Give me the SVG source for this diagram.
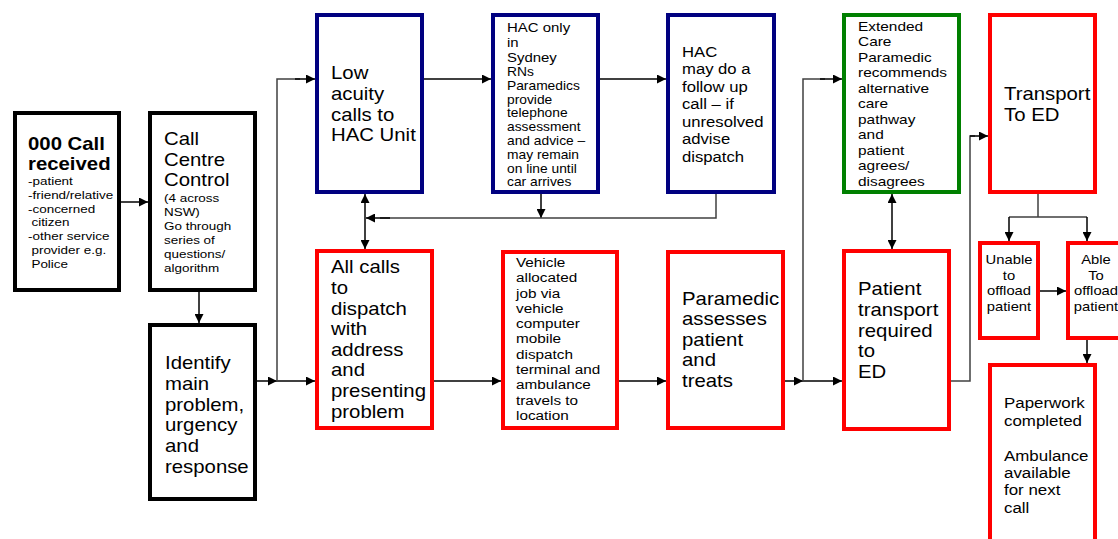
<svg xmlns="http://www.w3.org/2000/svg" width="1118" height="539" viewBox="0 0 1118 539">
<style>
.box{fill:#fff;stroke-width:4}
.k{stroke:#000}.b{stroke:#000080}.r{stroke:#ff0000}.g{stroke:#008000}
text{font-family:"Liberation Sans",Arial,sans-serif;fill:#000}
.L{font-size:17.7px}.M{font-size:14.5px}.S{font-size:11.7px}
.c{fill:none;stroke:#000;stroke-width:1.5}
.cg{fill:none;stroke:#404040;stroke-width:1.5}
</style>
<defs>
<marker id="ah" viewBox="0 0 10 10" refX="10" refY="5" markerWidth="9" markerHeight="9" markerUnits="userSpaceOnUse" orient="auto-start-reverse"><path d="M0,0 L10,5 L0,10 z" fill="#000"/></marker>
</defs>

<g id="connectors">
<path class="c" d="M121,202 H148" marker-end="url(#ah)"/>
<path class="c" d="M199,292 V323" marker-end="url(#ah)"/>
<path class="c" d="M257,381 H277" marker-end="url(#ah)"/>
<path class="c" d="M277,381 H315" marker-end="url(#ah)"/>
<path class="cg" d="M277,381 V79 H300"/>
<path class="c" d="M295,79 H315" marker-end="url(#ah)"/>
<path class="c" d="M424,79 H491" marker-end="url(#ah)"/>
<path class="c" d="M600,79 H666" marker-end="url(#ah)"/>
<path class="c" d="M541,194 V218" marker-end="url(#ah)"/>
<path class="cg" d="M716,194 V218 H380"/>
<path class="c" d="M390,218 H366" marker-end="url(#ah)"/>
<path class="c" d="M365,194 V249" marker-start="url(#ah)" marker-end="url(#ah)"/>
<path class="c" d="M434,381 H501" marker-end="url(#ah)"/>
<path class="c" d="M619,381 H666" marker-end="url(#ah)"/>
<path class="c" d="M785,381 H803" marker-end="url(#ah)"/>
<path class="c" d="M803,381 H842" marker-end="url(#ah)"/>
<path class="cg" d="M803,381 V79 H825"/>
<path class="c" d="M820,79 H842" marker-end="url(#ah)"/>
<path class="c" d="M892,194 V249" marker-start="url(#ah)" marker-end="url(#ah)"/>
<path class="cg" d="M951,381 H970 V136 H975"/>
<path class="c" d="M970,136 H988" marker-end="url(#ah)"/>
<path class="cg" d="M1038,194 V217 M1009,217 H1087"/>
<path class="c" d="M1009,217 V241" marker-end="url(#ah)"/>
<path class="c" d="M1087,217 V241" marker-end="url(#ah)"/>
<path class="c" d="M1040,291 H1066" marker-end="url(#ah)"/>
<path class="c" d="M1087,340 V363" marker-end="url(#ah)"/>
</g>

<g id="n_call_received">
<rect class="box k" x="15" y="113" width="104" height="177"/>
<text transform="translate(28,0) scale(1.15,1)" font-weight="bold" class="L"><tspan x="0" y="150">000 Call</tspan><tspan x="0" y="170">received</tspan></text>
<text transform="translate(28,0) scale(1.15,1)" class="S"><tspan x="0" y="185">-patient</tspan><tspan x="0" y="199">-friend/relative</tspan><tspan x="0" y="213">-concerned</tspan><tspan x="3" y="226.5">citizen</tspan><tspan x="0" y="240">-other service</tspan><tspan x="3" y="254">provider e.g.</tspan><tspan x="3" y="268">Police</tspan></text>
</g>

<g id="n_call_centre">
<rect class="box k" x="150" y="113" width="105" height="177"/>
<text transform="translate(164,0) scale(1.15,1)" class="L"><tspan x="0" y="145">Call</tspan><tspan x="0" y="166">Centre</tspan><tspan x="0" y="186">Control</tspan></text>
<text transform="translate(164,0) scale(1.15,1)" class="S"><tspan x="0" y="202">(4 across</tspan><tspan x="0" y="216">NSW)</tspan><tspan x="0" y="230">Go through</tspan><tspan x="0" y="244">series of</tspan><tspan x="0" y="258">questions/</tspan><tspan x="0" y="272">algorithm</tspan></text>
</g>

<g id="n_identify">
<rect class="box k" x="150" y="325" width="105" height="174"/>
<text transform="translate(165,0) scale(1.15,1)" class="L"><tspan x="0" y="369">Identify</tspan><tspan x="0" y="390">main</tspan><tspan x="0" y="411">problem,</tspan><tspan x="0" y="431">urgency</tspan><tspan x="0" y="452">and</tspan><tspan x="0" y="473">response</tspan></text>
</g>

<g id="n_low_acuity">
<rect class="box b" x="317" y="15" width="105" height="177"/>
<text transform="translate(331,0) scale(1.15,1)" class="L"><tspan x="0" y="79.5">Low</tspan><tspan x="0" y="100">acuity</tspan><tspan x="0" y="121">calls to</tspan><tspan x="0" y="141.5">HAC Unit</tspan></text>
</g>

<g id="n_hac_only">
<rect class="box b" x="493" y="15" width="105" height="177"/>
<text transform="translate(507,0) scale(1.15,1)" font-size="13"><tspan x="0" y="31.7">HAC only</tspan><tspan x="0" y="46.7">in</tspan><tspan x="0" y="62">Sydney</tspan></text>
<text transform="translate(507,0) scale(1.15,1)" font-size="12"><tspan x="0" y="76">RNs</tspan><tspan x="0" y="89.8">Paramedics</tspan><tspan x="0" y="103.6">provide</tspan><tspan x="0" y="117.4">telephone</tspan><tspan x="0" y="131.2">assessment</tspan><tspan x="0" y="145">and advice –</tspan><tspan x="0" y="158.8">may remain</tspan><tspan x="0" y="172.6">on line until</tspan><tspan x="0" y="186.4">car arrives</tspan></text>
</g>

<g id="n_hac_followup">
<rect class="box b" x="668" y="15" width="106" height="177"/>
<text transform="translate(682,0) scale(1.15,1)" class="M"><tspan x="0" y="57">HAC</tspan><tspan x="0" y="74.5">may do a</tspan><tspan x="0" y="92">follow up</tspan><tspan x="0" y="109.5">call – if</tspan><tspan x="0" y="127">unresolved</tspan><tspan x="0" y="144.5">advise</tspan><tspan x="0" y="162">dispatch</tspan></text>
</g>

<g id="n_extended_care">
<rect class="box g" x="844" y="15" width="115" height="177"/>
<text transform="translate(858,0) scale(1.15,1)" font-size="13.4"><tspan x="0" y="31">Extended</tspan><tspan x="0" y="46.5">Care</tspan><tspan x="0" y="62">Paramedic</tspan><tspan x="0" y="77.5">recommends</tspan><tspan x="0" y="93">alternative</tspan><tspan x="0" y="108.5">care</tspan><tspan x="0" y="124">pathway</tspan><tspan x="0" y="139.5">and</tspan><tspan x="0" y="155">patient</tspan><tspan x="0" y="170.5">agrees/</tspan><tspan x="0" y="186">disagrees</tspan></text>
</g>

<g id="n_transport_ed">
<rect class="box r" x="990" y="15" width="105" height="177"/>
<text transform="translate(1004,0) scale(1.15,1)" class="L"><tspan x="0" y="100">Transport</tspan><tspan x="0" y="121">To ED</tspan></text>
</g>

<g id="n_all_calls">
<rect class="box r" x="317" y="251" width="115" height="177"/>
<text transform="translate(331,0) scale(1.15,1)" class="L"><tspan x="0" y="273.5">All calls</tspan><tspan x="0" y="294">to</tspan><tspan x="0" y="315">dispatch</tspan><tspan x="0" y="335.5">with</tspan><tspan x="0" y="356">address</tspan><tspan x="0" y="376.5">and</tspan><tspan x="0" y="397">presenting</tspan><tspan x="0" y="418">problem</tspan></text>
</g>

<g id="n_vehicle">
<rect class="box r" x="503" y="252" width="114" height="176"/>
<text transform="translate(516,0) scale(1.15,1)" font-size="13.3"><tspan x="0" y="267">Vehicle</tspan><tspan x="0" y="282.3">allocated</tspan><tspan x="0" y="297.6">job via</tspan><tspan x="0" y="312.9">vehicle</tspan><tspan x="0" y="328.2">computer</tspan><tspan x="0" y="343.5">mobile</tspan><tspan x="0" y="358.8">dispatch</tspan><tspan x="0" y="374.1">terminal and</tspan><tspan x="0" y="389.4">ambulance</tspan><tspan x="0" y="404.7">travels to</tspan><tspan x="0" y="420">location</tspan></text>
</g>

<g id="n_paramedic">
<rect class="box r" x="668" y="252" width="115" height="176"/>
<text transform="translate(682,0) scale(1.15,1)" class="L"><tspan x="0" y="305">Paramedic</tspan><tspan x="0" y="325.5">assesses</tspan><tspan x="0" y="346">patient</tspan><tspan x="0" y="366.5">and</tspan><tspan x="0" y="387">treats</tspan></text>
</g>

<g id="n_patient_transport">
<rect class="box r" x="844" y="251" width="105" height="178"/>
<text transform="translate(858,0) scale(1.15,1)" class="L"><tspan x="0" y="295">Patient</tspan><tspan x="0" y="316">transport</tspan><tspan x="0" y="337">required</tspan><tspan x="0" y="357">to</tspan><tspan x="0" y="378">ED</tspan></text>
</g>

<g id="n_unable">
<rect class="box r" x="980" y="243" width="58" height="95"/>
<text transform="translate(1009,0) scale(1.12,1)" font-size="13.2" text-anchor="middle"><tspan x="0" y="264.3">Unable</tspan><tspan x="0" y="279.8">to</tspan><tspan x="0" y="295.3">offload</tspan><tspan x="0" y="310.8">patient</tspan></text>
</g>

<g id="n_able">
<rect class="box r" x="1068" y="243" width="58" height="95"/>
<text transform="translate(1096,0) scale(1.12,1)" font-size="13.2" text-anchor="middle"><tspan x="0" y="264.3">Able</tspan><tspan x="0" y="279.8">To</tspan><tspan x="0" y="295.3">offload</tspan><tspan x="0" y="310.8">patient</tspan></text>
</g>

<g id="n_paperwork">
<rect class="box r" x="990" y="365" width="105" height="185"/>
<text transform="translate(1004,0) scale(1.15,1)" font-size="14.7"><tspan x="0" y="408.3">Paperwork</tspan><tspan x="0" y="425.8">completed</tspan><tspan x="0" y="460.7">Ambulance</tspan><tspan x="0" y="478">available</tspan><tspan x="0" y="495.3">for next</tspan><tspan x="0" y="512.6">call</tspan></text>
</g>
</svg>
